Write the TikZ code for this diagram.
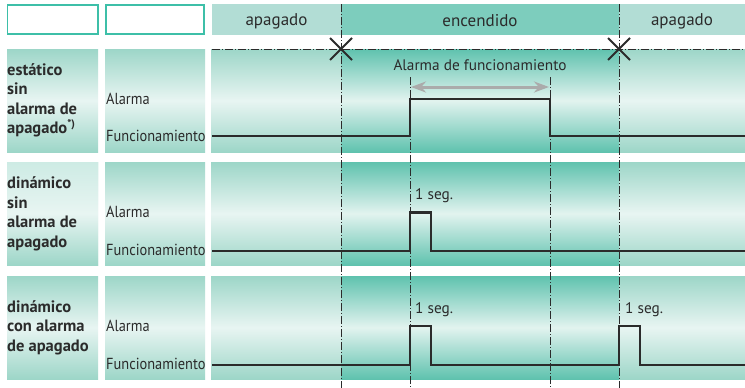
\documentclass[tikz,border=0pt]{standalone}
\usepackage{fontspec}
\setmainfont{PT Sans}
\newfontfamily\condfont[FakeStretch=0.9]{PT Sans}
\usetikzlibrary{arrows.meta}
\definecolor{bandL}{HTML}{9DD6C8}
\definecolor{bandLL}{HTML}{CDEBE4}
\definecolor{bandD}{HTML}{5FC2AE}
\definecolor{bandW}{HTML}{E8F5F2}
\definecolor{bandWD}{HTML}{E2F3EF}
\definecolor{hdrL}{HTML}{B2DDD5}
\definecolor{hdrD}{HTML}{7DCDBD}
\definecolor{boxedge}{HTML}{3DBFA8}
\definecolor{ink}{HTML}{2B2B2B}
\definecolor{arrowgray}{HTML}{ABABAB}
\tikzset{
  lightband/.style={top color=bandL, bottom color=bandL, middle color=bandW},
  palerband/.style={top color=bandLL, bottom color=bandL, middle color=bandW},
  darkband/.style={top color=bandD, bottom color=bandD, middle color=bandWD},
  hdrtext/.style={font=\fontsize{17}{19}\selectfont, text=ink, inner sep=0pt},
  sigtext/.style={font=\condfont\fontsize{16}{18}\selectfont, text=ink, inner sep=0pt, anchor=base west},
  modetext/.style={font=\bfseries\fontsize{16.5}{19.5}\selectfont, text=ink, inner sep=0pt, anchor=base west, align=left},
  smalltext/.style={font=\fontsize{15.3}{17}\selectfont, text=ink, inner sep=0pt, anchor=base west},
  dashdot/.style={draw=ink, line width=0.9pt, dash pattern=on 8pt off 2pt on 1pt off 2pt},
  signal/.style={draw=ink, line width=2.6pt, line join=miter},
  crossmark/.style={draw=ink, line width=1.8pt},
  emptybox/.style={draw=boxedge, line width=1.3pt, fill=white},
  grayarrow/.style={draw=arrowgray, line width=3pt, {Stealth[length=15pt,width=11pt]}-{Stealth[length=15pt,width=11pt]}}
}
\begin{document}
\begin{tikzpicture}[x=1pt,y=-1pt]
\useasboundingbox (0,0) rectangle (745,388);
\fill[white] (0,0) rectangle (745,388);
% header
\draw[emptybox] (7.5,5) rectangle (98,34);
\draw[emptybox] (106,5) rectangle (204,34);
\fill[hdrL] (212,4) rectangle (341,35);
\fill[hdrD] (341,4) rectangle (619,35);
\fill[hdrL] (619,4) rectangle (745,35);
\node[hdrtext] (h1) at (276.5,21) {apagado};
\node[hdrtext] (h2) at (480,21) {encendido};
\node[hdrtext] (h3) at (682,21) {apagado};
% rows
\foreach \t/\b in {49/152,162/265,276/379}{
  \fill[lightband] (7,\t) rectangle (98,\b);
  \fill[lightband] (105,\t) rectangle (205,\b);
  \fill[lightband] (211,\t) rectangle (341,\b);
  \fill[darkband] (341,\t) rectangle (619,\b);
  \fill[lightband] (619,\t) rectangle (745,\b);
}
\fill[palerband] (7,162) rectangle (98,265);
% mode labels (anchored at the baseline of their last line)
\node[modetext] (m1) at (7,133.5) {estático\\sin\\alarma de\\apagado\raisebox{6pt}{\fontsize{11}{11}\selectfont *)}};
\node[modetext] (m2) at (7,247) {dinámico\\sin\\alarma de\\apagado};
\node[modetext] (m3) at (7,351) {dinámico\\con alarma\\de apagado};
% signal labels
\node[sigtext] (a1) at (106,104) {Alarma};
\node[sigtext] (f1) at (106,141.5) {Funcionamiento};
\node[sigtext] (a2) at (106,217) {Alarma};
\node[sigtext] (f2) at (106,255.5) {Funcionamiento};
\node[sigtext] (a3) at (106,331) {Alarma};
\node[sigtext] (f3) at (106,369.5) {Funcionamiento};
% dash-dot lines
\draw[dashdot] (212,49) -- (745,49);
\draw[dashdot] (341,4) -- (341,388);
\draw[dashdot] (619,4) -- (619,388);
\draw[dashdot] (410,77) -- (410,388);
\draw[dashdot] (550,77) -- (550,388);
% crosses
\coordinate (x1) at (341,49);
\coordinate (x2) at (619,49);
\foreach \c in {x1,x2}{
  \draw[crossmark] ([shift={(-11,-11)}]\c) -- ([shift={(11,11)}]\c);
  \draw[crossmark] ([shift={(-11,11)}]\c) -- ([shift={(11,-11)}]\c);
}
% row 1
\node[smalltext, anchor=base] (alf) at (480,70) {Alarma de funcionamiento};
\coordinate (p1) at (411,87);
\coordinate (p2) at (549,87);
\draw[grayarrow] (p1) -- (p2);
\draw[signal] (212,136) -- (410,136) -- (410,99) -- (550,99) -- (550,136) -- (745,136);
% row 2
\node[smalltext] (s2) at (415,199) {1 seg.};
\draw[signal] (212,251) -- (410,251) -- (410,212.5) -- (431,212.5) -- (431,251) -- (745,251);
% row 3
\node[smalltext] (s3a) at (415,313) {1 seg.};
\node[smalltext] (s3b) at (625,313) {1 seg.};
\draw[signal] (212,365) -- (410,365) -- (410,326) -- (431,326) -- (431,365) -- (619,365) -- (619,326) -- (640,326) -- (640,365) -- (745,365);
\end{tikzpicture}
\end{document}
